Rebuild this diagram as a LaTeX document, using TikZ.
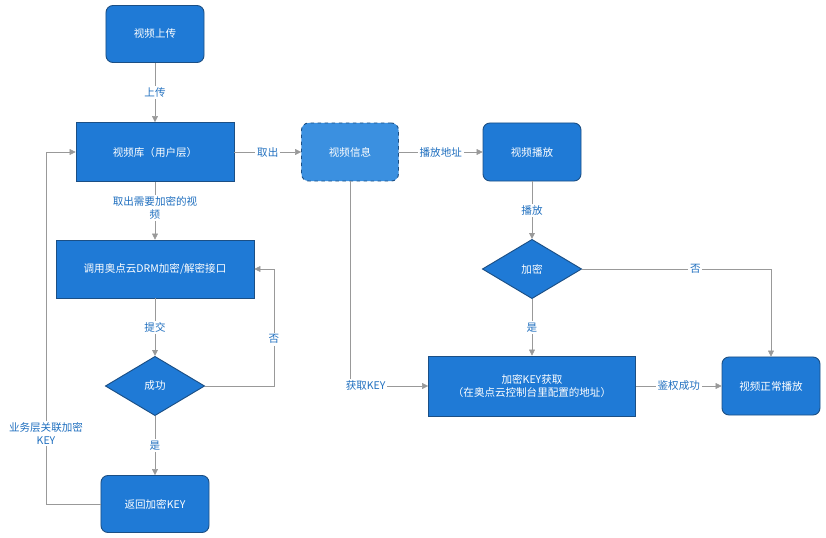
\documentclass[tikz,border=0pt]{standalone}
\usepackage{fontspec}
\setmainfont{Noto Sans CJK SC}
\usetikzlibrary{shapes.geometric,arrows.meta,positioning}
\definecolor{boxblue}{HTML}{1F7AD6}
\definecolor{lightblue}{HTML}{3B90E0}
\definecolor{edgeblue}{HTML}{1B4F85}
\definecolor{labelblue}{HTML}{1F6FBF}
\tikzset{
    >={Triangle[length=5pt,width=5pt]},
    font={\fontsize{9pt}{11pt}\selectfont},
    blok/.style={rectangle, fill=boxblue, draw=edgeblue, thick, text=white,
        align=center, inner sep=0pt},
    rblok/.style={blok, rounded corners=6pt},
    ruit/.style={diamond, fill=boxblue, draw=edgeblue, thick, text=white,
        minimum width=2.98cm, minimum height=1.78cm, aspect=1.67, inner sep=0pt},
    lijn/.style={draw=gray!80, ->},
    lbl/.style={fill=white, text=labelblue, inner sep=1.5pt, align=center},
}
\begin{document}
\begin{tikzpicture}[x=0.03cm, y=-0.03cm]
    \useasboundingbox (0,0) rectangle (826,538);
    % nodes
    \node[rblok, minimum width=2.94cm, minimum height=1.71cm] (upload) at (155,34) {视频上传};
    \node[blok, minimum width=4.74cm, minimum height=1.77cm] (lib) at (155,152) {视频库（用户层）};
    \node[rblok, fill=lightblue, dashed, minimum width=2.91cm, minimum height=1.74cm] (info) at (350,152) {视频信息};
    \node[rblok, minimum width=2.94cm, minimum height=1.74cm] (play) at (532,152) {视频播放};
    \node[blok, minimum width=5.94cm, minimum height=1.74cm] (drm) at (155,269) {调用奥点云DRM加密/解密接口};
    \node[ruit] (ok) at (155,386) {成功};
    \node[rblok, minimum width=3.24cm, minimum height=1.71cm] (key) at (155,504) {返回加密KEY};
    \node[ruit] (enc) at (532,269) {加密};
    \node[blok, minimum width=6.21cm, minimum height=1.8cm] (get) at (532,386) {加密KEY获取\\（在奥点云控制台里配置的地址）};
    \node[rblok, minimum width=2.94cm, minimum height=1.74cm] (normal) at (771,386) {视频正常播放};
    % connectors
    \draw[lijn] (upload) -- node[lbl] {上传} (lib);
    \draw[lijn] (lib) -- node[lbl] {取出} (info);
    \draw[lijn] (info) -- node[lbl] {播放地址} (play);
    \draw[lijn] (lib) -- node[lbl, pos=0.45] {取出需要加密的视\\频} (drm);
    \draw[lijn] (drm) -- node[lbl] {提交} (ok);
    \draw[lijn] (ok.east) -| node[lbl, pos=0.7] {否} (274,269) -- (drm.east);
    \draw[lijn] (ok) -- node[lbl] {是} (key);
    \draw[lijn] (key.west) -| node[lbl, pos=0.6] {业务层关联加密\\KEY} (46,152) -- (lib.west);
    \draw[lijn] (play) -- node[lbl] {播放} (enc);
    \draw[lijn] (enc.east) -| node[lbl, pos=0.3] {否} (normal.north);
    \draw[lijn] (enc) -- node[lbl] {是} (get);
    \draw[lijn] (info.south) |- node[lbl, pos=0.6] {获取KEY} (get.west);
    \draw[lijn] (get) -- node[lbl] {鉴权成功} (normal);
\end{tikzpicture}
\end{document}
